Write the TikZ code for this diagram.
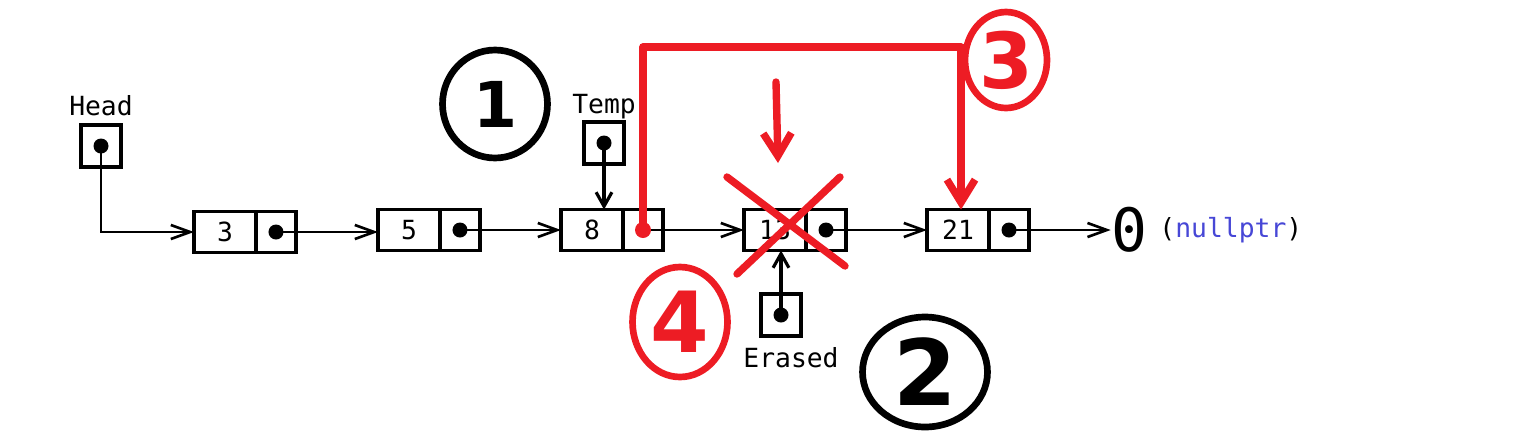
\documentclass[tikz,border=0pt]{standalone}
\usepackage{fontspec}
\setmainfont{DejaVu Sans}
\newfontfamily\monofont{DejaVu Sans Mono}
\usetikzlibrary{positioning, arrows.meta, shapes.geometric}

\definecolor{markred}{HTML}{ED1C24}
\definecolor{nullblue}{HTML}{4747D6}

\tikzset{
    cell/.style={draw, line width=1.9pt, inner sep=0pt, outer sep=0pt,
        minimum height=0.82cm, font=\monofont\fontsize{15}{16}\selectfont},
    valcell/.style={cell, minimum width=1.24cm},
    ptrcell/.style={cell, minimum width=0.8cm},
    ptrbox/.style={cell, minimum width=0.8cm, minimum height=0.84cm},
    caption/.style={inner sep=1pt, font=\monofont\fontsize{15}{16}\selectfont},
    link/.style={-{Straight Barb[length=11pt, width=8pt]}, line width=1.5pt},
    stem/.style={-{Straight Barb[length=8pt, width=9pt]}, line width=1.8pt},
    redline/.style={markred, line width=4.2pt, line cap=round, line join=round},
    redtip/.style={-{Straight Barb[length=13pt, width=16pt]}},
    ring/.style={ellipse, draw, line width=3.8pt, inner sep=0pt},
}

\begin{document}
\begin{tikzpicture}[x=0.02cm, y=-0.02cm]
\useasboundingbox (0,0) rectangle (1520,440);

% list nodes
\foreach \i/\v/\x/\y in {1/3/225/232, 2/5/409/230, 3/8/592/230, 4/13/775/230, 5/21/958/230} {
    \node[valcell] (val-\i) at (\x, \y) {\v};
    \node[ptrcell, right = 0pt of val-\i] (ptr-\i) {};
}

% links between the list nodes
\foreach \i/\j in {1/2, 2/3, 3/4, 4/5} {
    \draw[link] (ptr-\i.center) -- (ptr-\i.center -| val-\j.west);
}
\foreach \i in {1, 2, 4, 5} {
    \fill (ptr-\i) circle[radius=7.5];
}

% end of the list
\node[inner sep=0pt, font=\monofont\fontsize{34}{34}\selectfont] (nullzero) at (1129, 230) {0};
\node[caption, right = 0.2cm of nullzero] (nullptr) {(\textcolor{nullblue}{nullptr})};
\draw[link] (ptr-5.center) -- (nullzero.west);

% pointers
\node[ptrbox] (head) at (101, 146) {};
\node[caption, above = 0.14cm of head] (head-label) {Head};
\fill (head) circle[radius=7.5];
\draw[link] (head.center) |- (val-1.west);

\node[ptrbox] (temp) at (604, 143) {};
\node[caption, above = 0.02cm of temp] (temp-label) {Temp};
\fill (temp) circle[radius=7.5];
\draw[stem] (temp.center) -- (temp.center |- val-3.north);

\node[ptrbox] (erased) at (781, 315) {};
\node[caption, below = 0.18cm of erased, xshift=0.2cm] (erased-label) {Erased};
\fill (erased) circle[radius=7.5];
\draw[stem] (erased.center) -- (erased.center |- val-4.south);

% red changes
\coordinate (hook) at (961, 47);
\coordinate (drop-top) at (776, 82);
\coordinate (drop-end) at (778, 163);
\draw[redline, redtip] (ptr-3.center) |- (hook) -- (hook |- val-5.north);
\fill[markred] (ptr-3) circle[radius=8];
\draw[redline, redtip] (drop-top) -- (drop-end);
\draw[redline] (727, 177) -- (845, 266);
\draw[redline] (840, 177) -- (737, 274);

% step numbers
\node[ring, minimum width=2.1cm, minimum height=2.16cm,
    font=\bfseries\fontsize{36}{36}\selectfont] (step-1) at (495, 104) {1};
\node[ring, minimum width=2.5cm, minimum height=2.2cm,
    font=\bfseries\fontsize{52}{52}\selectfont] (step-2) at (925, 372) {2};
\node[ring, markred, minimum width=1.64cm, minimum height=1.92cm,
    font=\bfseries\fontsize{44}{44}\selectfont] (step-3) at (1006, 60) {3};
\node[ring, markred, minimum width=1.9cm, minimum height=2.2cm,
    font=\bfseries\fontsize{48}{48}\selectfont] (step-4) at (680, 322) {4};

\end{tikzpicture}
\end{document}
